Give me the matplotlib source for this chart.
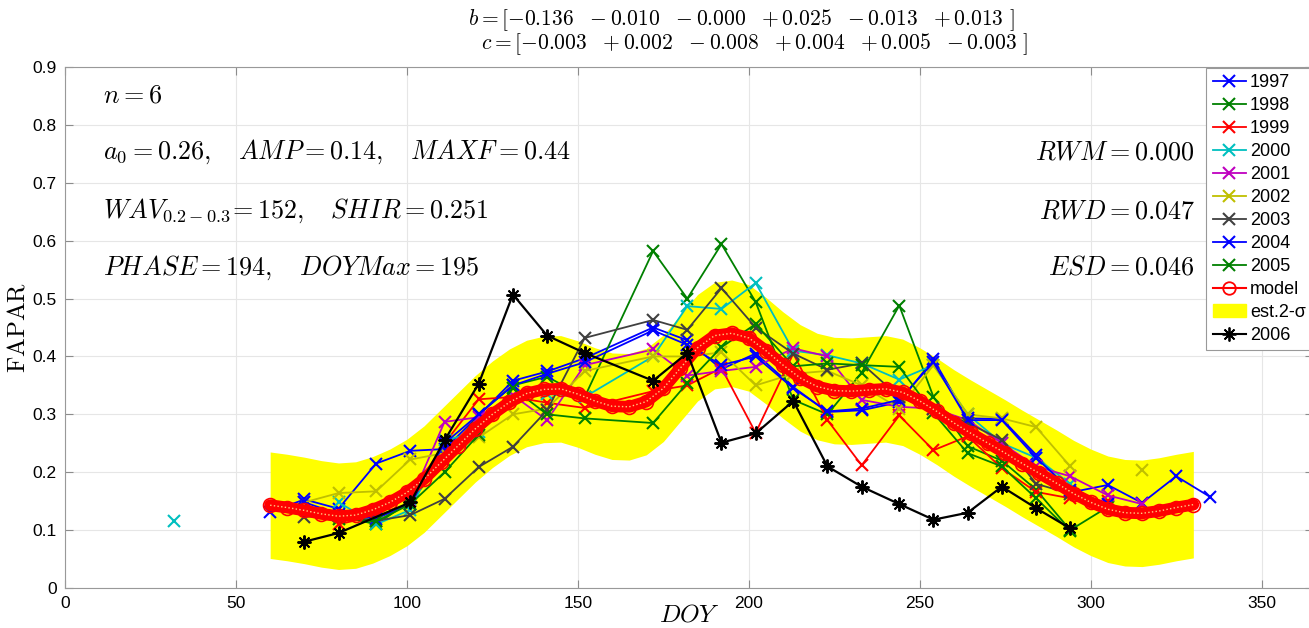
import matplotlib
matplotlib.use("Agg")
import matplotlib.pyplot as plt
import numpy as np
from matplotlib.lines import Line2D
from matplotlib.patches import Patch

plt.rcParams['mathtext.fontset'] = 'cm'
plt.rcParams['font.family'] = ['Liberation Sans', 'DejaVu Sans']

nan = np.nan

# day of year of the samples (dekads), common grid for the years
doy = [32, 60, 70, 80, 91, 101, 111, 121, 131, 141, 152, 172, 182, 192, 202,
       213, 223, 233, 244, 254, 264, 274, 284, 294, 305, 315, 325, 335]

y1997 = [nan, 0.131, 0.153, 0.137, 0.215, 0.237, 0.240, 0.298, 0.358, 0.374, 0.397, 0.450, 0.428, 0.378, 0.405,
         0.347, 0.304, 0.307, 0.321, 0.395, 0.293, 0.292, 0.230, 0.165, 0.178, 0.147, 0.193, 0.157]
y1998 = [nan, nan, nan, 0.125, 0.110, 0.150, 0.220, 0.300, 0.350, 0.365, 0.330, 0.582, 0.500, 0.594, 0.494,
         0.325, 0.300, 0.372, 0.488, 0.330, 0.245, 0.220, 0.170, 0.100, 0.140, nan, nan, nan]
y1999 = [nan, nan, nan, 0.110, 0.125, 0.160, 0.250, 0.326, 0.330, 0.320, 0.311, 0.340, 0.350, 0.380, 0.268,
         0.405, 0.290, 0.212, 0.298, 0.238, 0.262, 0.207, 0.166, 0.155, 0.150, nan, nan, nan]
y2000 = [0.115, nan, nan, 0.148, 0.110, 0.135, 0.255, 0.270, 0.330, 0.335, 0.330, 0.400, 0.487, 0.482, 0.527,
         0.410, 0.402, 0.388, 0.360, 0.385, 0.300, 0.250, 0.225, 0.180, nan, nan, nan, nan]
y2001 = [nan, nan, nan, nan, nan, 0.150, 0.287, 0.295, 0.333, 0.290, 0.385, 0.412, 0.367, 0.375, 0.382,
         0.414, 0.400, 0.325, 0.313, 0.310, 0.290, 0.250, 0.210, 0.193, 0.160, 0.145, nan, nan]
y2002 = [nan, nan, 0.148, 0.164, 0.167, 0.222, 0.233, 0.260, 0.300, 0.310, 0.375, 0.400, 0.400, 0.407, 0.350,
         0.370, 0.375, 0.350, 0.310, 0.385, 0.300, 0.293, 0.278, 0.210, nan, 0.203, nan, nan]
y2003 = [nan, nan, 0.123, 0.125, 0.116, 0.126, 0.154, 0.209, 0.244, 0.307, 0.432, 0.463, 0.446, 0.518, 0.450,
         0.405, 0.377, 0.388, 0.330, 0.310, 0.285, 0.256, 0.180, 0.163, nan, nan, nan, nan]
y2004 = [nan, nan, 0.148, 0.128, 0.120, 0.145, 0.250, 0.300, 0.350, 0.370, 0.390, 0.445, 0.420, 0.385, 0.400,
         0.345, 0.305, 0.310, 0.325, 0.390, 0.290, 0.290, 0.225, 0.170, 0.145, nan, nan, nan]
y2005 = [nan, nan, nan, 0.120, 0.115, 0.145, 0.200, 0.265, 0.345, 0.300, 0.293, 0.285, 0.354, 0.416, 0.456,
         0.383, 0.388, 0.385, 0.382, 0.302, 0.233, 0.210, 0.155, 0.098, nan, nan, nan, nan]

doy2006 = [70, 80, 101, 111, 121, 131, 141, 152, 172, 182, 192, 202, 213, 223, 233, 244, 254, 264, 274, 284, 294]
y2006 = [0.080, 0.095, 0.148, 0.255, 0.353, 0.507, 0.436, 0.406, 0.358, 0.406, 0.251, 0.267, 0.323,
         0.210, 0.175, 0.145, 0.118, 0.130, 0.175, 0.138, 0.103]

years = ['1997', '1998', '1999', '2000', '2001', '2002', '2003', '2004', '2005']
series = [y1997, y1998, y1999, y2000, y2001, y2002, y2003, y2004, y2005]
colores = [(0, 0, 1), (0, 0.5, 0), (1, 0, 0), (0, 0.75, 0.75), (0.75, 0, 0.75),
           (0.75, 0.75, 0), (0.25, 0.25, 0.25), (0, 0, 1), (0, 0.5, 0)]

# model
model_doy = [60, 65, 70, 75, 80, 85, 90, 95, 100, 105, 110, 115, 120, 125, 130, 135, 140, 145, 150,
             155, 160, 165, 170, 175, 180, 185, 190, 195, 200, 205, 210, 215, 220, 225, 230, 235,
             240, 245, 250, 255, 260, 265, 270, 275, 280, 285, 290, 295, 300, 305, 310, 315, 320,
             325, 330]
model = [0.143, 0.139, 0.134, 0.128, 0.124, 0.126, 0.135, 0.148, 0.165, 0.188, 0.217, 0.246, 0.275,
         0.300, 0.321, 0.336, 0.343, 0.344, 0.335, 0.323, 0.314, 0.313, 0.322, 0.345, 0.380, 0.415,
         0.436, 0.440, 0.432, 0.410, 0.385, 0.363, 0.348, 0.341, 0.340, 0.342, 0.344, 0.338, 0.323,
         0.305, 0.285, 0.267, 0.250, 0.233, 0.215, 0.198, 0.181, 0.163, 0.148, 0.136, 0.130, 0.129,
         0.133, 0.139, 0.144]

n = 6
a0, amp, maxf = 0.26, 0.14, 0.44
wav, shir = 152, 0.251
phase, doymax = 194, 195
rwm, rwd, esd = 0.000, 0.047, 0.046
b = [-0.136, -0.010, -0.000, 0.025, -0.013, 0.013]
c = [-0.003, 0.002, -0.008, 0.004, 0.005, -0.003]

W, H = 1309, 628
fig = plt.figure(figsize=(W / 100, H / 100), dpi=100)
ax = fig.add_axes([65 / W, 40 / H, 1248 / W, 521 / H])

m = np.array(model)
ax.fill_between(model_doy, m - 2 * esd, m + 2 * esd, color=(1, 1, 0), lw=0, zorder=1)

for yr, s, col in zip(years, series, colores):
    ax.plot(doy, s, '-x', color=col, lw=1.3, ms=8, mew=1.5, zorder=3)

ax.plot(model_doy, model, '-', color='r', lw=8.5, solid_capstyle='round', zorder=4)
ax.plot(model_doy, model, 'o', mfc='none', mec='r', ms=10, mew=1.2, zorder=4)
ax.plot(model_doy, model, ':', color=(1, 0.8, 0.5), lw=1.0, zorder=4)

ax.plot(doy2006, y2006, '-', color='k', lw=1.6, marker=(8, 2, 0), ms=10, mew=1.4, zorder=5)

ax.set_xlim(0, 365)
ax.set_ylim(0, 0.9)
ax.set_xticks(np.arange(0, 351, 50))
ax.set_yticks(np.arange(0, 0.91, 0.1))
ax.set_yticklabels(['0', '0.1', '0.2', '0.3', '0.4', '0.5', '0.6', '0.7', '0.8', '0.9'])
ax.grid(True, color=(0.9, 0.9, 0.9), lw=0.8)
ax.set_axisbelow(True)
ax.tick_params(direction='in', length=6, width=0.8, color=(0.55, 0.55, 0.55),
               labelsize=12.5, pad=6, top=True, right=True)
for sp in ax.spines.values():
    sp.set_color((0.6, 0.6, 0.6))

ax.set_xlabel(r'$DOY$', fontsize=18, labelpad=-6)
ax.set_ylabel(r'$\mathrm{FAPAR}$', fontsize=18, labelpad=2)

ts = 18.8
ax.text(11, 0.85, r'$n=%d$' % n, fontsize=ts, va='center')
ax.text(11, 0.753, r'$a_0=%.2f,\quad AMP=%.2f,\quad MAXF=%.2f$' % (a0, amp, maxf), fontsize=ts, va='center')
ax.text(11, 0.651, r'$WAV_{0.2-0.3}\!=%d,\quad SHIR=%.3f$' % (wav, shir), fontsize=ts, va='center')
ax.text(11, 0.553, r'$PHASE=%d,\quad DOYMax=%d$' % (phase, doymax), fontsize=ts, va='center')
ax.text(330.5, 0.753, r'$RWM=%.3f$' % rwm, fontsize=ts, va='center', ha='right')
ax.text(330.5, 0.651, r'$RWD=%.3f$' % rwd, fontsize=ts, va='center', ha='right')
ax.text(330.5, 0.553, r'$ESD=%.3f$' % esd, fontsize=ts, va='center', ha='right')

bs = r'\ \ '.join(['%+.3f' % v if v != 0 else '-0.000' for v in b])
cs = r'\ \ '.join(['%+.3f' % v for v in c])
fig.text(741 / W, 1 - 20 / H, r'$b=[%s\ ]$' % bs, fontsize=15.5, ha='center', va='center')
fig.text(754 / W, 1 - 44 / H, r'$c=[%s\ ]$' % cs, fontsize=15.5, ha='center', va='center')

handles = [Line2D([], [], color=col, marker='x', lw=1.3, ms=8, mew=1.5) for col in colores]
handles.append(Line2D([], [], color='r', marker='o', mfc='none', lw=1.5, ms=9, mew=1.3))
handles.append(Patch(color=(1, 1, 0)))
handles.append(Line2D([], [], color='k', marker=(8, 2, 0), lw=1.5, ms=10, mew=1.3))
labels = years + ['model', 'est.2-σ', '2006']
leg = ax.legend(handles, labels, loc='upper right', bbox_to_anchor=(1312 / W, 1 - 68 / H),
                bbox_transform=fig.transFigure, fontsize=13, handlelength=1.85, handletextpad=0.2,
                labelspacing=0.33, borderpad=0.35, borderaxespad=0, fancybox=False, framealpha=1)
leg.get_frame().set_edgecolor((0.6, 0.6, 0.6))
leg.get_frame().set_linewidth(0.8)

fig.savefig('out.png', dpi=100)
